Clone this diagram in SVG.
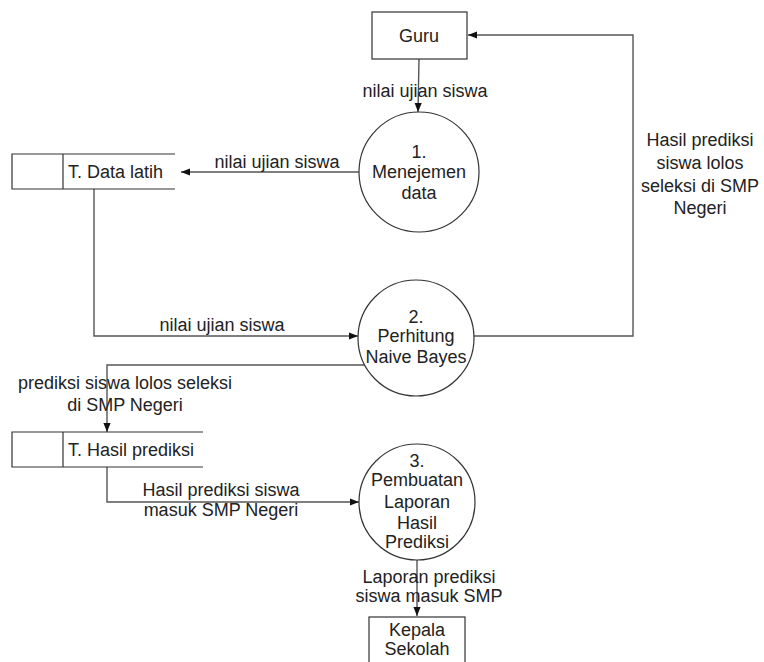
<svg xmlns="http://www.w3.org/2000/svg" width="764" height="662" viewBox="0 0 764 662">
  <style>
    text { font-family: "Liberation Sans", Arial, sans-serif; font-size: 18px; fill: #222; text-anchor: middle; }
    .ls { text-anchor: start; }
    .shape { fill: #fff; stroke: #333; stroke-width: 1.2; }
    .store { fill: none; stroke: #333; stroke-width: 1.2; }
    .flow { fill: none; stroke: #555; stroke-width: 1.4; }
  </style>
  <defs>
    <marker id="arr" viewBox="0 0 10 10" refX="10" refY="5" markerWidth="9" markerHeight="9" markerUnits="userSpaceOnUse" orient="auto">
      <path d="M0,1 L10,5 L0,9 Z" fill="#111"/>
    </marker>
  </defs>
  <rect width="764" height="662" fill="#fff"/>

  <g id="connectors">
    <!-- Guru -> 1 -->
    <path class="flow" d="M419,59 L418,112" marker-end="url(#arr)"/>
    <text x="425" y="97">nilai ujian siswa</text>
    <!-- 1 -> T. Data latih -->
    <path class="flow" d="M359,172 L181,172" marker-end="url(#arr)"/>
    <text x="277" y="168">nilai ujian siswa</text>
    <!-- T. Data latih -> 2 -->
    <path class="flow" d="M94,189 L94,336 L358,336" marker-end="url(#arr)"/>
    <text x="222" y="331">nilai ujian siswa</text>
    <!-- 2 -> Guru -->
    <path class="flow" d="M474,336 L633,336 L633,35 L468,35" marker-end="url(#arr)"/>
    <text x="700" y="146">Hasil prediksi</text>
    <text x="700" y="169">siswa lolos</text>
    <text x="700" y="192">seleksi di SMP</text>
    <text x="700" y="214">Negeri</text>
    <!-- 2 -> T. Hasil prediksi -->
    <path class="flow" d="M368,365 L107,365 L107,432" marker-end="url(#arr)"/>
    <text x="125" y="389">prediksi siswa lolos seleksi</text>
    <text x="125" y="411">di SMP Negeri</text>
    <!-- T. Hasil prediksi -> 3 -->
    <path class="flow" d="M107,467 L107,502 L359,502" marker-end="url(#arr)"/>
    <text x="221" y="496">Hasil prediksi siswa</text>
    <text x="221" y="516">masuk SMP Negeri</text>
    <!-- 3 -> Kepala Sekolah -->
    <path class="flow" d="M417,560 L417,616" marker-end="url(#arr)"/>
    <text x="429" y="583">Laporan prediksi</text>
    <text x="429" y="602">siswa masuk SMP</text>
  </g>

  <g id="guru">
    <rect class="shape" x="372" y="12" width="95" height="47"/>
    <text x="419" y="42">Guru</text>
  </g>

  <g id="p1">
    <circle class="shape" cx="419" cy="172" r="60"/>
    <text x="419" y="158">1.</text>
    <text x="419" y="178">Menejemen</text>
    <text x="419" y="199">data</text>
  </g>

  <g id="p2">
    <circle class="shape" cx="416" cy="338" r="58"/>
    <text x="416" y="323">2.</text>
    <text x="416" y="342">Perhitung</text>
    <text x="416" y="363">Naive Bayes</text>
  </g>

  <g id="p3">
    <circle class="shape" cx="417" cy="502" r="58"/>
    <text x="417" y="467">3.</text>
    <text x="417" y="486">Pembuatan</text>
    <text x="417" y="508">Laporan</text>
    <text x="417" y="529">Hasil</text>
    <text x="417" y="548">Prediksi</text>
  </g>

  <g id="store-data-latih">
    <path class="store" d="M175,154 L12,154 L12,189 L175,189 M63,154 L63,189"/>
    <text class="ls" x="68" y="178">T. Data latih</text>
  </g>

  <g id="store-hasil-prediksi">
    <path class="store" d="M203,432 L12,432 L12,467 L203,467 M63,432 L63,467"/>
    <text class="ls" x="68" y="456">T. Hasil prediksi</text>
  </g>

  <g id="kepala-sekolah">
    <rect class="shape" x="369" y="617" width="96" height="60"/>
    <text x="417" y="636">Kepala</text>
    <text x="417" y="655">Sekolah</text>
  </g>
</svg>
